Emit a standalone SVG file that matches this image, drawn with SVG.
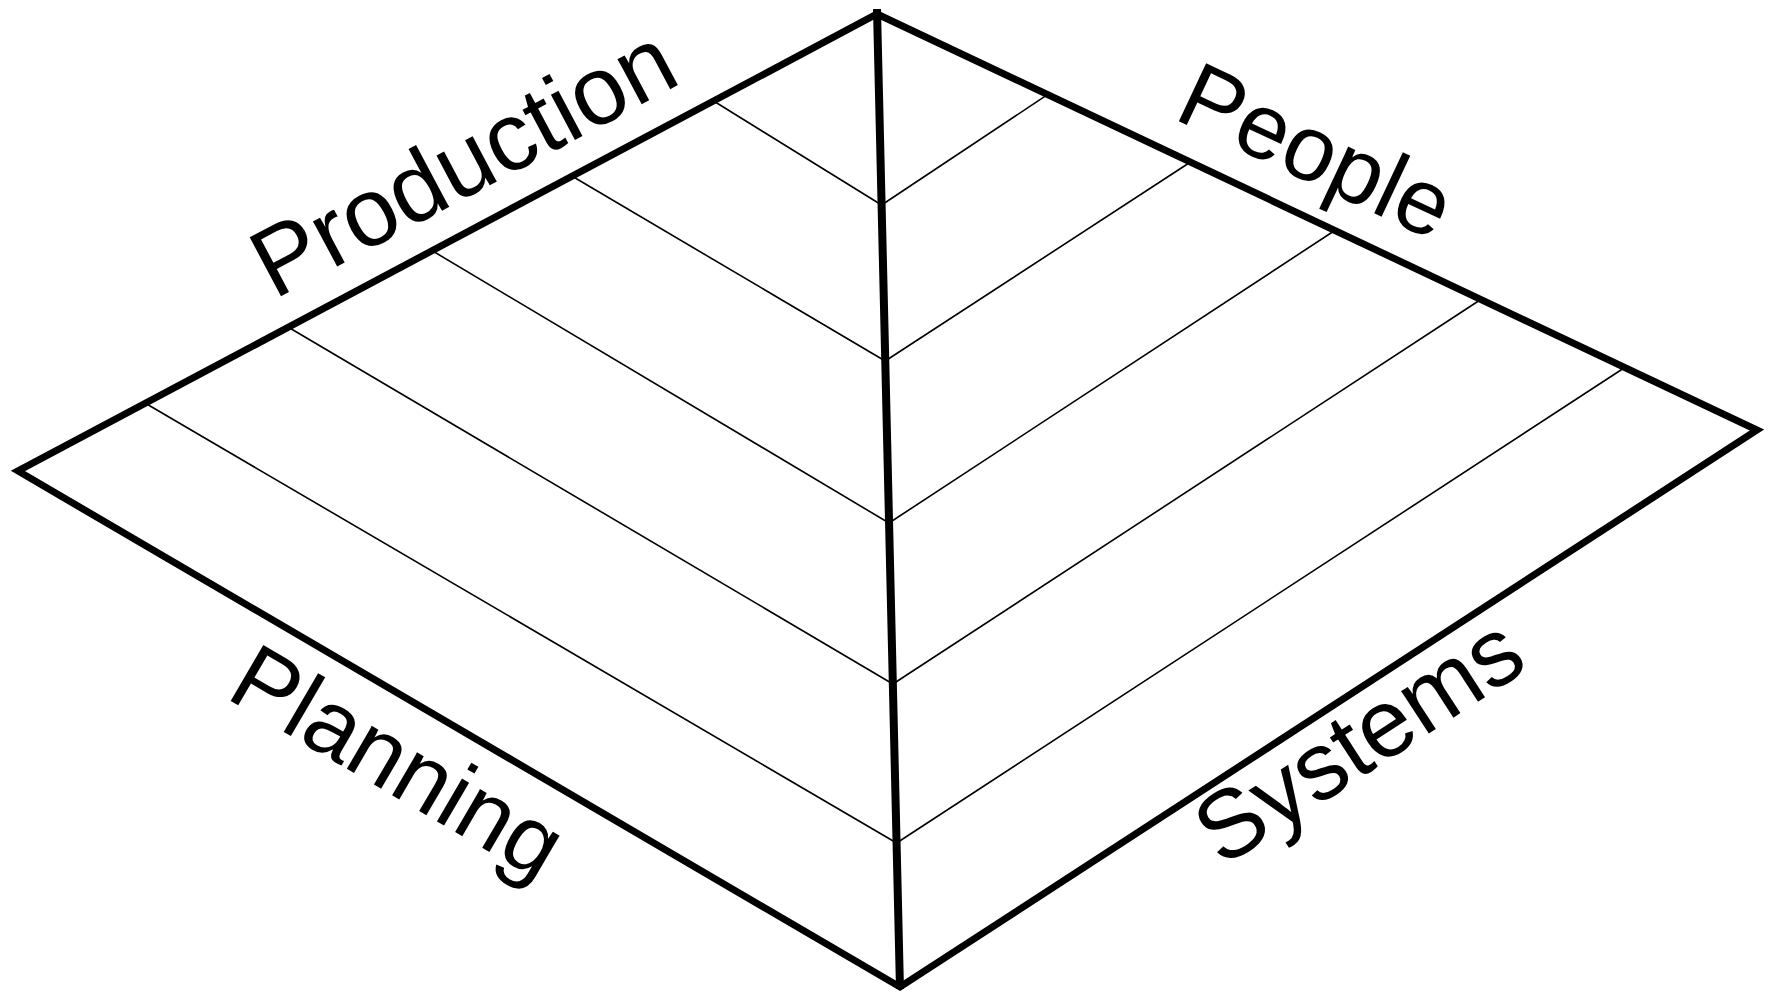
<svg xmlns="http://www.w3.org/2000/svg" width="1771" height="995" viewBox="0 0 1771 995">
<style>
.thick{fill:none;stroke:#000;stroke-width:7;stroke-linejoin:miter;stroke-miterlimit:10}
.spine{stroke:#000;stroke-width:8;fill:none}
.thin{stroke:#000;stroke-width:1.6;fill:none}
.lbl{font-family:"Liberation Sans",Arial,sans-serif;font-size:95px;fill:#000}
</style>
<rect width="1771" height="995" fill="#fff"/>
<g id="layers">
<line class="thin" x1="145" y1="403" x2="896.6" y2="843"/>
<line class="thin" x1="288" y1="327" x2="892.9" y2="684"/>
<line class="thin" x1="431" y1="250" x2="889" y2="523"/>
<line class="thin" x1="571" y1="175.5" x2="885.2" y2="361"/>
<line class="thin" x1="712" y1="100" x2="881.6" y2="205"/>
<line class="thin" x1="1046" y1="95.7" x2="881.6" y2="205"/>
<line class="thin" x1="1189" y1="163" x2="885.2" y2="361"/>
<line class="thin" x1="1334" y1="231" x2="889" y2="523"/>
<line class="thin" x1="1480" y1="300" x2="892.9" y2="684"/>
<line class="thin" x1="1624" y1="368" x2="896.6" y2="843"/>
</g>
<g id="pyramid">
<polygon class="thick" points="877,14 1757,430 900,987 18,471"/>
<line class="spine" x1="877" y1="9" x2="900" y2="989"/>
</g>
<g id="label-production"><text class="lbl" style="font-size:97px" transform="translate(274,300) rotate(-28)">Production</text></g>
<g id="label-people"><text class="lbl" style="font-size:93px" transform="translate(1172,118) rotate(25.2)">People</text></g>
<g id="label-planning"><text class="lbl" style="font-size:94px" transform="translate(224,697) rotate(30.3)">Planning</text></g>
<g id="label-systems"><text class="lbl" style="font-size:96px" transform="translate(1222,868) rotate(-33)">Systems</text></g>
</svg>
